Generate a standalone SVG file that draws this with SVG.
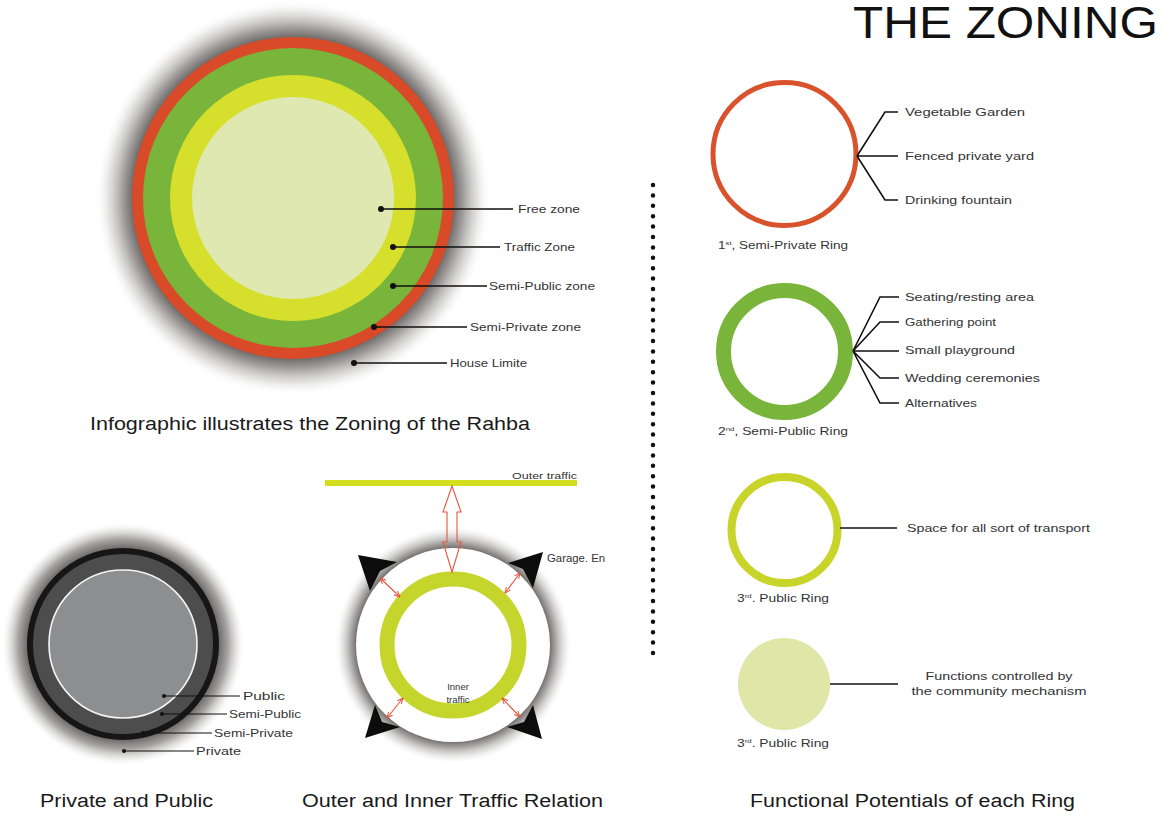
<svg xmlns="http://www.w3.org/2000/svg" width="1163" height="816" viewBox="0 0 1163 816">
<style>
text{font-family:"Liberation Sans","DejaVu Sans",sans-serif;fill:#222}
.cap{font-size:18px;fill:#1a1a1a}
.lbl{font-size:10.5px;fill:#333}
.rl{font-size:11.5px;fill:#333}
.ln{stroke:#111;stroke-width:1.6;fill:none}
.dot{fill:#111}
.red{stroke:#e8553d;stroke-width:1.1;fill:none}
.tri{fill:#0c0c0c}
</style>
<defs>
<radialGradient id="sh1" gradientUnits="userSpaceOnUse" cx="293" cy="198" r="198">
<stop offset="0.8" stop-color="#625e5c"/>
<stop offset="0.86" stop-color="#8f8b8a" stop-opacity="0.85"/>
<stop offset="0.93" stop-color="#c4c2c1" stop-opacity="0.5"/>
<stop offset="1" stop-color="#fff" stop-opacity="0"/>
</radialGradient>
<radialGradient id="sh2" gradientUnits="userSpaceOnUse" cx="123" cy="644" r="122">
<stop offset="0.77" stop-color="#625e5c"/>
<stop offset="0.86" stop-color="#8f8b8a" stop-opacity="0.8"/>
<stop offset="0.93" stop-color="#c4c2c1" stop-opacity="0.45"/>
<stop offset="1" stop-color="#fff" stop-opacity="0"/>
</radialGradient>
<radialGradient id="sh3" gradientUnits="userSpaceOnUse" cx="453" cy="645" r="119">
<stop offset="0.8" stop-color="#625e5c"/>
<stop offset="0.86" stop-color="#8f8b8a" stop-opacity="0.8"/>
<stop offset="0.93" stop-color="#c4c2c1" stop-opacity="0.45"/>
<stop offset="1" stop-color="#fff" stop-opacity="0"/>
</radialGradient>
<marker id="ah" viewBox="0 0 10 10" refX="9" refY="5" markerWidth="6" markerHeight="6" orient="auto-start-reverse">
<path d="M0,1 L9,5 L0,9" fill="none" stroke="#e8553d" stroke-width="1.5"/>
</marker>
</defs>
<rect width="1163" height="816" fill="#fff"/>

<text id="title" x="853" y="38" style="font-size:44px;fill:#111" textLength="305" lengthAdjust="spacingAndGlyphs">THE ZONING</text>

<g id="zoning-rings">
<circle cx="293" cy="198" r="198" fill="url(#sh1)"/>
<circle cx="293" cy="198" r="161" fill="#d94a28"/>
<circle cx="293" cy="198" r="150" fill="#78b53a"/>
<circle cx="293" cy="198" r="123" fill="#d5df2c"/>
<circle cx="293" cy="198" r="101" fill="#dfe8b0"/>
</g>
<g id="zoning-labels">
<circle class="dot" cx="381" cy="209" r="3"/><path class="ln" d="M381,209H513"/><text class="lbl" x="518" y="213" textLength="62" lengthAdjust="spacingAndGlyphs">Free zone</text>
<circle class="dot" cx="393" cy="247" r="3"/><path class="ln" d="M393,247H500"/><text class="lbl" x="504" y="251" textLength="71" lengthAdjust="spacingAndGlyphs">Traffic Zone</text>
<circle class="dot" cx="393" cy="286" r="3"/><path class="ln" d="M393,286H487"/><text class="lbl" x="489" y="290" textLength="106" lengthAdjust="spacingAndGlyphs">Semi-Public zone</text>
<circle class="dot" cx="374" cy="327" r="3"/><path class="ln" d="M374,327H467"/><text class="lbl" x="470" y="331" textLength="111" lengthAdjust="spacingAndGlyphs">Semi-Private zone</text>
<circle class="dot" cx="354" cy="363" r="3"/><path class="ln" d="M354,363H447"/><text class="lbl" x="450" y="367" textLength="77" lengthAdjust="spacingAndGlyphs">House Limite</text>
</g>
<text class="cap" x="90" y="430" textLength="440" lengthAdjust="spacingAndGlyphs">Infographic illustrates the Zoning of the Rahba</text>

<g id="private-public">
<circle cx="123" cy="644" r="122" fill="url(#sh2)"/>
<circle cx="123" cy="644" r="93" fill="#4d4d4d" stroke="#161616" stroke-width="6"/>
<circle cx="123" cy="644" r="74" fill="#8c8e90" stroke="#f4f4f4" stroke-width="1.6"/>
<circle class="dot" cx="164" cy="696" r="2"/><path class="ln" style="stroke-width:1" d="M164,696H240"/><text class="lbl" x="243" y="700" textLength="42" lengthAdjust="spacingAndGlyphs">Public</text>
<circle class="dot" cx="162" cy="714" r="2"/><path class="ln" style="stroke-width:1" d="M162,714H227"/><text class="lbl" x="229" y="718" textLength="72" lengthAdjust="spacingAndGlyphs">Semi-Public</text>
<circle class="dot" cx="143" cy="733" r="2"/><path class="ln" style="stroke-width:1" d="M143,733H212"/><text class="lbl" x="214" y="737" textLength="79" lengthAdjust="spacingAndGlyphs">Semi-Private</text>
<circle class="dot" cx="124" cy="751" r="2"/><path class="ln" style="stroke-width:1" d="M124,751H194"/><text class="lbl" x="196" y="755" textLength="45" lengthAdjust="spacingAndGlyphs">Private</text>
</g>
<text class="cap" x="40" y="807" textLength="173" lengthAdjust="spacingAndGlyphs">Private and Public</text>

<g id="traffic">
<line x1="325" y1="483" x2="577" y2="483" stroke="#d3df1e" stroke-width="6"/>
<text class="lbl" x="512" y="479" style="font-size:9.5px" textLength="65" lengthAdjust="spacingAndGlyphs">Outer traffic</text>
<circle cx="453" cy="645" r="119" fill="url(#sh3)"/>
<circle cx="453" cy="645" r="97" fill="#fff"/>
<circle cx="453" cy="645" r="66" fill="none" stroke="#c6d52c" stroke-width="15"/>
<polygon class="red" points="452,486 461,512 457,512 457,542 461,542 452,572 443,542 447,542 447,512 443,512"/>
<line class="red" x1="380" y1="578" x2="400" y2="597" marker-start="url(#ah)" marker-end="url(#ah)"/>
<line class="red" x1="520" y1="573" x2="505" y2="593" marker-start="url(#ah)" marker-end="url(#ah)"/>
<line class="red" x1="403" y1="698" x2="387" y2="718" marker-start="url(#ah)" marker-end="url(#ah)"/>
<line class="red" x1="502" y1="698" x2="520" y2="717" marker-start="url(#ah)" marker-end="url(#ah)"/>
<polygon class="tri" points="358,555 397,562 380,571 370,591"/>
<polygon class="tri" points="543,552 533,588 523,569 508,563"/>
<polygon class="tri" points="365,738 375,705 382,722 400,727"/>
<polygon class="tri" points="542,739 507,727 524,722 533,705"/>
<text class="lbl" x="547" y="562" textLength="58" lengthAdjust="spacingAndGlyphs">Garage. En</text>
<text class="lbl" x="458" y="690" text-anchor="middle" style="font-size:9.5px">Inner</text>
<text class="lbl" x="458" y="703" text-anchor="middle" style="font-size:9.5px">traffic</text>
</g>
<text class="cap" x="302" y="807" textLength="301" lengthAdjust="spacingAndGlyphs">Outer and Inner Traffic Relation</text>

<line id="divider" x1="653" y1="185" x2="653" y2="653" stroke="#111" stroke-width="4.5" stroke-linecap="round" stroke-dasharray="0 10.4"/>

<g id="ring1">
<circle cx="784.5" cy="154" r="71.5" fill="none" stroke="#d8532c" stroke-width="5"/>
<path class="ln" d="M857,156L885,112H898M857,156H898M857,156L885,200H898"/>
<text class="rl" x="905" y="116" textLength="120" lengthAdjust="spacingAndGlyphs">Vegetable Garden</text>
<text class="rl" x="905" y="160" textLength="129" lengthAdjust="spacingAndGlyphs">Fenced private yard</text>
<text class="rl" x="905" y="204" textLength="107" lengthAdjust="spacingAndGlyphs">Drinking fountain</text>
<text class="lbl" x="718" y="249" textLength="130" lengthAdjust="spacingAndGlyphs">1<tspan dy="-4" style="font-size:6px">st</tspan><tspan dy="4">, Semi-Private Ring</tspan></text>
</g>
<g id="ring2">
<circle cx="784.5" cy="351.5" r="61" fill="none" stroke="#78b53a" stroke-width="15"/>
<path class="ln" d="M853,351L880,297H899M853,351L880,322H899M853,351H899M853,351L880,378H899M853,351L880,403H899"/>
<text class="rl" x="905" y="301" textLength="129" lengthAdjust="spacingAndGlyphs">Seating/resting area</text>
<text class="rl" x="905" y="326" textLength="91" lengthAdjust="spacingAndGlyphs">Gathering point</text>
<text class="rl" x="905" y="354" textLength="110" lengthAdjust="spacingAndGlyphs">Small playground</text>
<text class="rl" x="905" y="382" textLength="135" lengthAdjust="spacingAndGlyphs">Wedding ceremonies</text>
<text class="rl" x="905" y="407" textLength="72" lengthAdjust="spacingAndGlyphs">Alternatives</text>
<text class="lbl" x="718" y="435" textLength="130" lengthAdjust="spacingAndGlyphs">2<tspan dy="-4" style="font-size:6px">nd</tspan><tspan dy="4">, Semi-Public Ring</tspan></text>
</g>
<g id="ring3">
<circle cx="784.5" cy="530" r="53" fill="none" stroke="#c8d42a" stroke-width="8"/>
<path class="ln" d="M840,528H897"/>
<text class="rl" x="907" y="532" textLength="183" lengthAdjust="spacingAndGlyphs">Space for all sort of transport</text>
<text class="lbl" x="737" y="602" textLength="92" lengthAdjust="spacingAndGlyphs">3<tspan dy="-4" style="font-size:6px">rd</tspan><tspan dy="4">. Public Ring</tspan></text>
</g>
<g id="ring4">
<circle cx="784" cy="684" r="46" fill="#dfe6a8"/>
<path class="ln" d="M830,684H898"/>
<text class="rl" x="999" y="680" text-anchor="middle" textLength="147" lengthAdjust="spacingAndGlyphs">Functions controlled by</text>
<text class="rl" x="999" y="695" text-anchor="middle" textLength="175" lengthAdjust="spacingAndGlyphs">the community mechanism</text>
<text class="lbl" x="737" y="747" textLength="92" lengthAdjust="spacingAndGlyphs">3<tspan dy="-4" style="font-size:6px">rd</tspan><tspan dy="4">. Public Ring</tspan></text>
</g>
<text class="cap" x="750" y="807" textLength="325" lengthAdjust="spacingAndGlyphs">Functional Potentials of each Ring</text>
</svg>
